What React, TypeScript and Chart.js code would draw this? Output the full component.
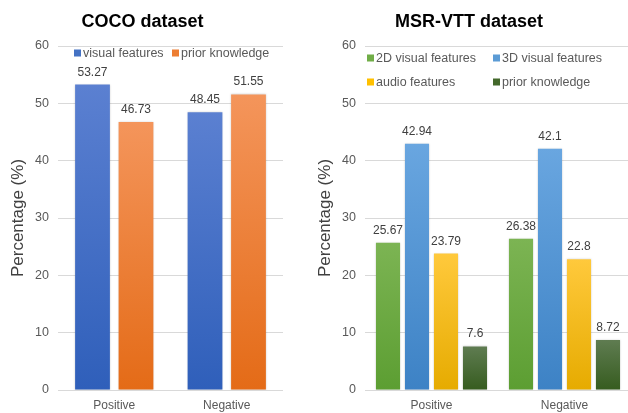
import React, { useEffect, useRef } from "react";
import { Chart, registerables } from "chart.js";

Chart.register(...registerables);

const categories = ["Positive", "Negative"];
const cocoVisual = [53.27, 48.45];
const cocoPrior = [46.73, 51.55];
const msr2D = [25.67, 26.38];
const msr3D = [42.94, 42.1];
const msrAudio = [23.79, 22.8];
const msrPrior = [7.6, 8.72];
const yTickMin = 0;
const yTickMax = 60;
const yTickStep = 10;

const FONT = "'Liberation Sans', Arial, sans-serif";

function grad(top: string, bottom: string) {
  return (ctx: any) => {
    const chart = ctx.chart;
    const scales = chart.scales;
    if (ctx.type !== "data" || !scales || !scales.y) return bottom;
    const v = ctx.raw as number;
    const y0 = scales.y.getPixelForValue(v);
    const y1 = scales.y.getPixelForValue(0);
    if (!isFinite(y0) || !isFinite(y1)) return bottom;
    const g = chart.ctx.createLinearGradient(0, y0, 0, y1);
    g.addColorStop(0, top);
    g.addColorStop(1, bottom);
    return g;
  };
}

const panelPlugin = {
  id: "panelExtras",
  beforeDatasetsDraw(chart: any) {
    const c = chart.ctx;
    c.save();
    c.shadowColor = "rgba(0,0,0,0.18)";
    c.shadowBlur = 2;
    c.shadowOffsetX = 0;
    c.shadowOffsetY = 0;
  },
  afterDatasetsDraw(chart: any) {
    const c = chart.ctx;
    c.restore();
    c.save();
    c.font = `12px ${FONT}`;
    c.fillStyle = "#404040";
    c.textAlign = "center";
    c.textBaseline = "alphabetic";
    chart.data.datasets.forEach((ds: any, i: number) => {
      const meta = chart.getDatasetMeta(i);
      meta.data.forEach((el: any, j: number) => {
        c.fillText(String(ds.data[j]), el.x, el.y - 9);
      });
    });
    c.restore();
  },
  afterDraw(chart: any, _args: any, opts: any) {
    const c = chart.ctx;
    c.save();
    c.font = `bold 18px ${FONT}`;
    c.fillStyle = "#000000";
    c.textAlign = "center";
    c.textBaseline = "alphabetic";
    c.fillText(opts.title, opts.titleX, opts.titleY);
    c.font = `12.5px ${FONT}`;
    c.textAlign = "left";
    c.textBaseline = "middle";
    chart.data.datasets.forEach((ds: any, i: number) => {
      const col = i % opts.legendCols.length;
      const row = Math.floor(i / opts.legendCols.length);
      const x = opts.legendCols[col];
      const y = opts.legendRows[row];
      c.fillStyle = ds.legendColor;
      c.fillRect(x, y - 3.5, 7, 7);
      c.fillStyle = "#595959";
      c.fillText(ds.label, x + 9, y + 0.5);
    });
    c.restore();
  },
};

function makeConfig(
  datasets: any[],
  catPct: number,
  barPct: number,
  yWidth: number,
  titlePad: number,
  padRight: number,
  extras: any
) {
  return {
    type: "bar" as const,
    data: { labels: categories, datasets },
    options: {
      responsive: false,
      animation: false as const,
      layout: { padding: { top: 46, right: padRight, bottom: 0, left: 0 } },
      datasets: { bar: { categoryPercentage: catPct, barPercentage: barPct } },
      plugins: {
        legend: { display: false },
        title: { display: false },
        tooltip: { enabled: false },
        panelExtras: extras,
      },
      scales: {
        x: {
          grid: { display: false, drawTicks: false },
          border: { display: false },
          ticks: { color: "#595959", font: { family: FONT, size: 12 }, padding: 8 },
          afterFit: (s: any) => {
            s.height = 23;
          },
        },
        y: {
          min: yTickMin,
          max: yTickMax,
          ticks: {
            stepSize: yTickStep,
            color: "#595959",
            font: { family: FONT, size: 12.5 },
            padding: 9,
          },
          grid: { color: "#d9d9d9", drawTicks: false, lineWidth: 1 },
          border: { display: false },
          title: {
            display: true,
            text: "Percentage (%)",
            color: "#404040",
            font: { family: FONT, size: 17 },
            padding: { top: titlePad, bottom: 0 },
          },
          afterFit: (s: any) => {
            s.width = yWidth;
          },
        },
      },
    },
    plugins: [panelPlugin],
  };
}

function Panel(props: { width: number; height: number; left: number; config: any }) {
  const ref = useRef<HTMLCanvasElement | null>(null);
  useEffect(() => {
    if (!ref.current) return;
    const chart = new Chart(ref.current, props.config);
    return () => chart.destroy();
  }, []);
  return (
    <canvas
      ref={ref}
      width={props.width}
      height={props.height}
      style={{ position: "absolute", left: props.left, top: 0, width: props.width, height: props.height }}
    />
  );
}

export default function App() {
  const cocoConfig = makeConfig(
    [
      { label: "visual features", data: cocoVisual, backgroundColor: grad("#5b80d1", "#2f5fba"), legendColor: "#4472c4", borderWidth: 0 },
      { label: "prior knowledge", data: cocoPrior, backgroundColor: grad("#f4955b", "#e46b17"), legendColor: "#ed7d31", borderWidth: 0 },
    ],
    0.773,
    0.8,
    58,
    8,
    31,
    { title: "COCO dataset", titleX: 142.5, titleY: 27, legendCols: [74, 172], legendRows: [53] }
  );
  const msrConfig = makeConfig(
    [
      { label: "2D visual features", data: msr2D, backgroundColor: grad("#7cb453", "#5c9e32"), legendColor: "#70ad47", borderWidth: 0 },
      { label: "3D visual features", data: msr3D, backgroundColor: grad("#69a6e0", "#3d82c5"), legendColor: "#5b9bd5", borderWidth: 0 },
      { label: "audio features", data: msrAudio, backgroundColor: grad("#ffc93c", "#e6ab00"), legendColor: "#ffc000", borderWidth: 0 },
      { label: "prior knowledge", data: msrPrior, backgroundColor: grad("#5f7c51", "#365c1f"), legendColor: "#43682b", borderWidth: 0 },
    ],
    0.872,
    0.83,
    51,
    1,
    0,
    { title: "MSR-VTT dataset", titleX: 155, titleY: 27, legendCols: [53, 179], legendRows: [58, 82] }
  );
  return (
    <div
      style={{
        position: "fixed",
        left: 0,
        top: 0,
        width: 628,
        height: 413,
        overflow: "hidden",
        background: "#ffffff",
      }}
    >
      <Panel width={314} height={413} left={0} config={cocoConfig} />
      <Panel width={317} height={413} left={314} config={msrConfig} />
    </div>
  );
}
